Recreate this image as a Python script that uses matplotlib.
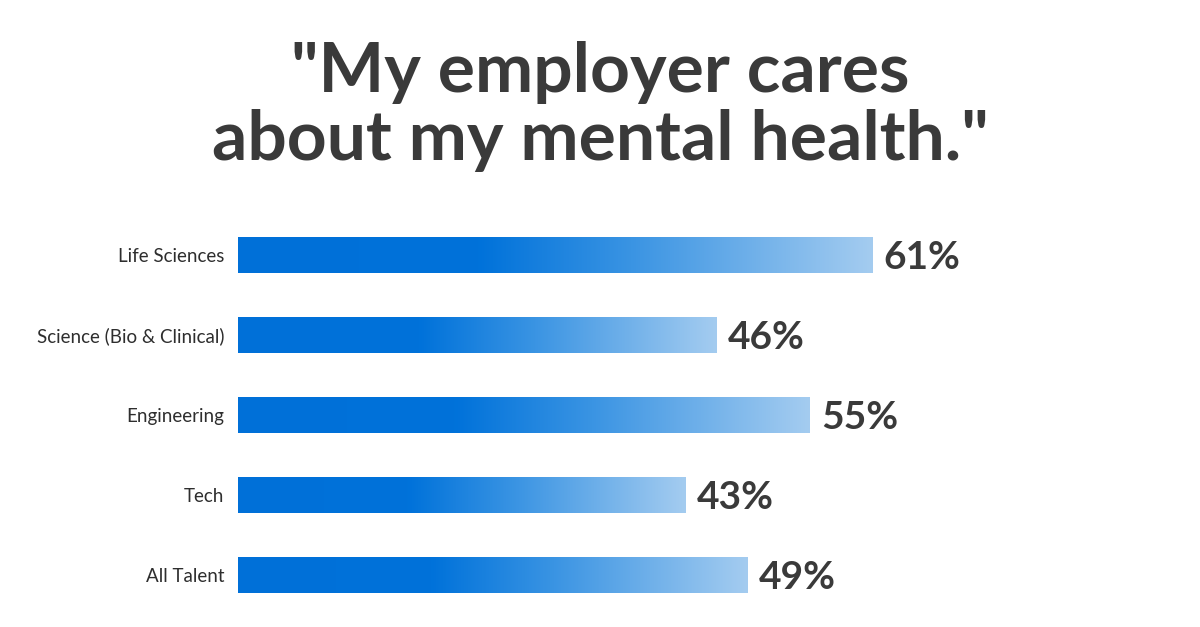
import matplotlib
matplotlib.use("Agg")
import matplotlib.pyplot as plt
import numpy as np
from matplotlib.colors import LinearSegmentedColormap

categories = ["Life Sciences", "Science (Bio & Clinical)", "Engineering", "Tech", "All Talent"]
values = [61, 46, 55, 43, 49]
title_lines = ['"My employer cares', 'about my mental health."']

W, H = 1200, 627
fig = plt.figure(figsize=(W / 100, H / 100), dpi=100)
fig.patch.set_facecolor("white")

# title
fig.text(0.5, 1 - 72 / H, title_lines[0], ha="center", va="center",
         fontsize=50, fontweight="bold", color="#3a3a3a", family=["Lato", "DejaVu Sans"])
fig.text(0.5, 1 - 140 / H, title_lines[1], ha="center", va="center",
         fontsize=50, fontweight="bold", color="#3a3a3a", family=["Lato", "DejaVu Sans"])

ax_left, ax_top, ax_bot = 238, 215, 615
ax = fig.add_axes([ax_left / W, (H - ax_bot) / H, (W - ax_left) / W, (ax_bot - ax_top) / H])
ax.set_facecolor("white")
px_per_unit = 10.4
ax.set_xlim(0, (W - ax_left) / px_per_unit)
ax.set_ylim(len(categories) - 0.5, -0.5)
for s in ax.spines.values():
    s.set_visible(False)
ax.set_xticks([])
ax.set_yticks(range(len(categories)))
ax.set_yticklabels(categories, fontsize=13.5, color="#2e2e2e", family=["Lato", "DejaVu Sans"])
ax.tick_params(axis="y", length=0, pad=10)

cmap = LinearSegmentedColormap.from_list(
    "g", [(0, "#0070d8"), (0.38, "#0072da"), (0.62, "#3a94e3"), (1.0, "#a4ccf0")])
grad = np.linspace(0, 1, 256).reshape(1, -1)
bar_h = 0.46
bars = ax.barh(range(len(categories)), values, height=bar_h, color="none", edgecolor="none")
for i, (b, v) in enumerate(zip(bars, values)):
    im = ax.imshow(grad, cmap=cmap, aspect="auto",
                   extent=[0, v, i + bar_h / 2, i - bar_h / 2], interpolation="bicubic", zorder=2)
    im.set_clip_path(b)
    ax.text(v + 1.1, i + 0.03, f"{v}%", va="center", ha="left", fontsize=28, fontweight="bold",
            color="#3a3a3a", family=["Lato", "DejaVu Sans"])

ax.set_xlim(0, (W - ax_left) / px_per_unit)
ax.set_ylim(len(categories) - 0.5, -0.5)
fig.savefig("out.png", dpi=100, facecolor="white")
